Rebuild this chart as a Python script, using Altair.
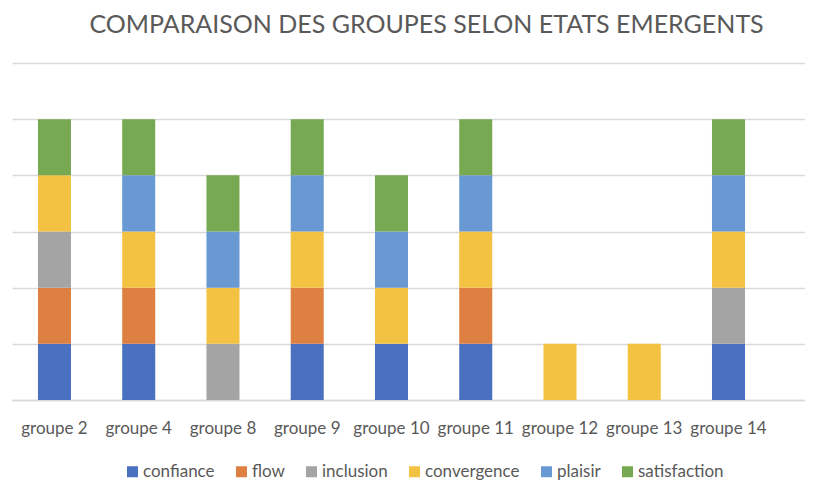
import altair as alt
import pandas as pd

groups = ["groupe 2", "groupe 4", "groupe 8", "groupe 9", "groupe 10",
          "groupe 11", "groupe 12", "groupe 13", "groupe 14"]
series = ["confiance", "flow", "inclusion", "convergence", "plaisir", "satisfaction"]
confiance    = [1, 1, 0, 1, 1, 1, 0, 0, 1]
flow         = [1, 1, 0, 1, 0, 1, 0, 0, 0]
inclusion    = [1, 0, 1, 0, 0, 0, 0, 0, 1]
convergence  = [1, 1, 1, 1, 1, 1, 1, 1, 1]
plaisir      = [0, 1, 1, 1, 1, 1, 0, 0, 1]
satisfaction = [1, 1, 1, 1, 1, 1, 0, 0, 1]
grid_values = [0, 1, 2, 3, 4, 5, 6]
colors = ["#4A71BF", "#DF8043", "#A4A4A4", "#F4C243", "#6899D2", "#77A952"]

values = [confiance, flow, inclusion, convergence, plaisir, satisfaction]
rows = []
for si, (s, vals) in enumerate(zip(series, values)):
    for g, v in zip(groups, vals):
        if v:
            rows.append({"groupe": g, "etat": s, "valeur": v, "ordre": si})
df = pd.DataFrame(rows)

FONT = "Lato"
GREY = "#595959"

chart = alt.Chart(df).mark_bar().encode(
    x=alt.X("groupe:N", sort=groups,
            scale=alt.Scale(paddingInner=0.608, paddingOuter=0.51, align=0.302),
            axis=alt.Axis(title=None, labelAngle=0, ticks=False, domain=True,
                          domainColor="#D9D9D9", domainWidth=1.3,
                          labelFontSize=17, labelColor=GREY, labelFont=FONT,
                          labelPadding=20)),
    y=alt.Y("valeur:Q", stack="zero",
            scale=alt.Scale(domain=[0, 6], nice=False),
            axis=alt.Axis(title=None, labels=False, ticks=False, domain=False,
                          values=grid_values, labelOverlap=False,
                          gridColor="#D9D9D9", gridWidth=1.3,
                          minExtent=0, maxExtent=0)),
    color=alt.Color("etat:N", sort=series,
                    scale=alt.Scale(domain=series, range=colors),
                    legend=alt.Legend(title=None, orient="none", direction="horizontal",
                                      legendX=112, legendY=400,
                                      symbolType="square", symbolSize=121,
                                      symbolStrokeWidth=0,
                                      labelFontSize=17, labelColor=GREY, labelFont=FONT,
                                      columnPadding=18, labelOffset=2, padding=0)),
    order=alt.Order("ordre:Q", sort="ascending"),
).properties(
    width=793,
    height=337,
    title=alt.TitleParams("COMPARAISON DES GROUPES SELON ETATS EMERGENTS",
                          fontSize=25, color=GREY, font=FONT, fontWeight="normal",
                          anchor="middle", dx=18, offset=25),
    padding={"left": 4, "top": 5, "right": 0, "bottom": 0},
).configure_view(stroke=None)

chart.save("out.html", embed_options={"renderer": "svg", "actions": False})
